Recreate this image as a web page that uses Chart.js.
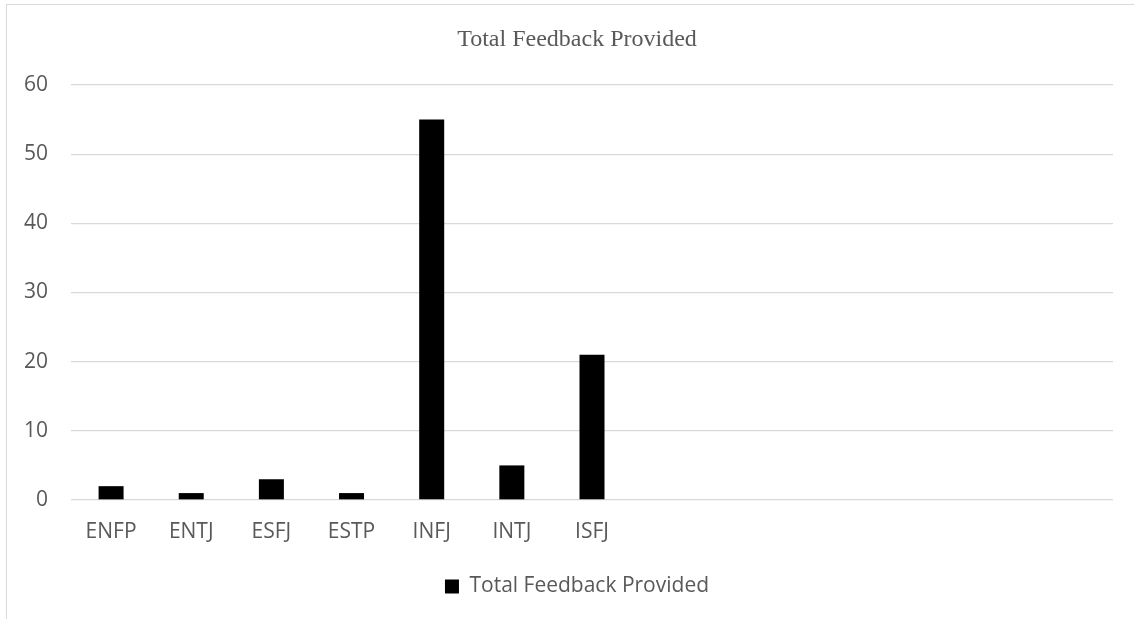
<!DOCTYPE html>
<html>
<head>
<meta charset="utf-8">
<script src="https://cdn.jsdelivr.net/npm/chart.js@4/dist/chart.umd.min.js"></script>
<style>
    html, body { margin: 0; padding: 0; background: #fff; overflow: hidden; }
    #frame {
        position: absolute;
        left: 6px;
        top: 4px;
        width: 1140px;
        height: 614px;
        border: 1px solid #d9d9d9;
    }
</style>
</head>
<body>
<div id="frame"><canvas id="feedbackChart" width="1140" height="614"></canvas></div>
<script>
// personality types on the x axis (trailing blanks keep the empty slots)
const types = ['ENFP', 'ENTJ', 'ESFJ', 'ESTP', 'INFJ', 'INTJ', 'ISFJ', '', '', '', '', '', ''];
const feedbackCounts = [2, 1, 3, 1, 55, 5, 21, null, null, null, null, null, null];
const yTicks = [0, 10, 20, 30, 40, 50, 60];

const textGray = '#595959';
const gridGray = '#d9d9d9';
const labelFont = { family: 'Open Sans', size: 21 };

function feedbackRenderChart() {
    const config = {
        type: 'bar',
        data: {
            labels: types,
            datasets: [{
                label: 'Total Feedback Provided',
                data: feedbackCounts,
                backgroundColor: '#000000',
                borderWidth: 0,
                barPercentage: 1,
                categoryPercentage: 0.312
            }]
        },
        options: {
            responsive: false,
            animation: false,
            layout: {
                padding: { left: 0, right: 0, top: 0, bottom: 12 }
            },
            plugins: {
                title: {
                    display: true,
                    text: 'Total Feedback Provided',
                    color: textGray,
                    font: { family: 'Liberation Serif', size: 24, weight: 'normal' },
                    padding: { top: 20.6, bottom: 30.6 }
                },
                legend: {
                    display: true,
                    position: 'bottom',
                    labels: {
                        color: textGray,
                        font: labelFont,
                        boxWidth: 14,
                        boxHeight: 14,
                        padding: 10
                    }
                },
                tooltip: { enabled: false }
            },
            scales: {
                x: {
                    grid: { display: false, drawTicks: false },
                    border: { display: false },
                    ticks: {
                        color: textGray,
                        font: labelFont,
                        padding: 19,
                        maxRotation: 0,
                        autoSkip: false
                    },
                    afterFit: (scale) => { scale.height = 66; }
                },
                y: {
                    min: 0,
                    max: 60,
                    grid: { color: gridGray, lineWidth: 1.3, drawTicks: false },
                    border: { display: false },
                    afterBuildTicks: (scale) => {
                        scale.ticks = yTicks.map(v => ({ value: v }));
                    },
                    ticks: {
                        color: textGray,
                        font: labelFont,
                        padding: 23
                    },
                    afterFit: (scale) => { scale.width = 64; }
                },
                // empty right-hand gutter so title and legend stay centred on the full width
                gutter: {
                    type: 'linear',
                    position: 'right',
                    grid: { display: false, drawTicks: false },
                    border: { display: false },
                    ticks: { display: false },
                    afterFit: (scale) => { scale.width = 34; }
                }
            }
        }
    };

    return new Chart(document.getElementById('feedbackChart'), config);
}

feedbackRenderChart();
</script>
</body>
</html>
